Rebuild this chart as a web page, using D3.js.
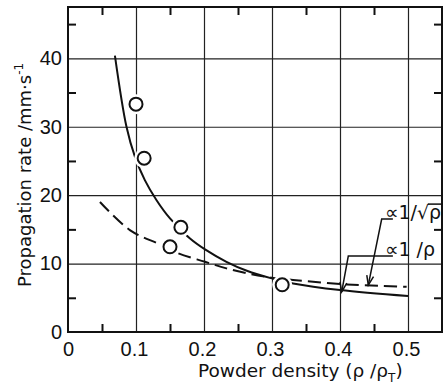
<!DOCTYPE html>
<html>
<head>
<meta charset="utf-8">
<script src="https://cdn.jsdelivr.net/npm/d3@7"></script>
<style>
  body { margin: 0; background: #fff; }
  .tick-label text { font-family: "Liberation Sans", Arial, sans-serif; font-size: 20px; fill: #111; }
  .title { font-family: "DejaVu Sans", sans-serif; font-size: 18px; fill: #111; }
</style>
</head>
<body>
<svg width="444" height="389"></svg>
<script>
const obsX = [0.1, 0.112, 0.15, 0.166, 0.315];
const obsY = [33.3, 25.4, 12.45, 15.3, 6.9];

// curve ∝ 1/rho (solid)
const invX = [0.069, 0.086, 0.0985, 0.113, 0.13, 0.15, 0.166, 0.179, 0.2015, 0.233, 0.263, 0.2995, 0.331, 0.4, 0.5];
const invY = [40.4, 30.0, 25.6, 22.2, 19.3, 16.6, 15.0, 13.7, 12.07, 10.26, 8.95, 7.84, 7.1, 6.13, 5.25];

// curve ∝ 1/sqrt(rho) (dashed)
const sqrtX = [0.047, 0.091, 0.135, 0.162, 0.2015, 0.233, 0.268, 0.2995, 0.331, 0.41, 0.498];
const sqrtY = [19.0, 14.9, 12.8, 11.5, 10.26, 9.3, 8.47, 7.93, 7.6, 6.96, 6.6];

const xTicks = [0, 0.1, 0.2, 0.3, 0.4, 0.5];
const xTickLabels = ["0", "0.1", "0.2", "0.3", "0.4", "0.5"];
const yTicks = [0, 10, 20, 30, 40];
const xMinor = [0.05, 0.15, 0.25, 0.35, 0.45];
const yMinor = [5, 15, 25, 35, 45];

const svg = d3.select("svg");
const m = { left: 68, right: 442, top: 7, bottom: 332 };

const x = d3.scaleLinear().domain([0, 0.55]).range([m.left, m.right]);
const y = d3.scaleLinear().domain([0, 47.5]).range([m.bottom, m.top]);

// grid lines
svg.append("g")
  .attr("transform", `translate(0,${m.bottom})`)
  .call(d3.axisBottom(x).tickValues(xTicks.slice(1)).tickSize(-(m.bottom - m.top)).tickFormat(""))
  .call(g => g.select(".domain").remove())
  .selectAll("line").attr("stroke", "#222").attr("stroke-width", 1.2);

svg.append("g")
  .attr("transform", `translate(${m.left},0)`)
  .call(d3.axisLeft(y).tickValues(yTicks.slice(1)).tickSize(-(m.right - m.left)).tickFormat(""))
  .call(g => g.select(".domain").remove())
  .selectAll("line").attr("stroke", "#222").attr("stroke-width", 1.2);

// curves
const line = d3.line()
  .x(d => x(d[0]))
  .y(d => y(d[1]))
  .curve(d3.curveCatmullRom);

svg.append("path")
  .datum(d3.zip(invX, invY))
  .attr("d", line)
  .attr("fill", "none")
  .attr("stroke", "#111")
  .attr("stroke-width", 2);

svg.append("path")
  .datum(d3.zip(sqrtX, sqrtY))
  .attr("d", line)
  .attr("fill", "none")
  .attr("stroke", "#111")
  .attr("stroke-width", 2)
  .attr("stroke-dasharray", "13,6");

// data points (white halo breaks the lines like the print)
const pts = d3.zip(obsX, obsY);
svg.append("g").selectAll("circle")
  .data(pts)
  .join("circle")
  .attr("cx", d => x(d[0]))
  .attr("cy", d => y(d[1]))
  .attr("r", 10)
  .attr("fill", "#fff");

svg.append("g").selectAll("circle")
  .data(pts)
  .join("circle")
  .attr("cx", d => x(d[0]))
  .attr("cy", d => y(d[1]))
  .attr("r", 6.5)
  .attr("fill", "#fff")
  .attr("stroke", "#111")
  .attr("stroke-width", 2);

// frame
svg.append("rect")
  .attr("x", m.left).attr("y", m.top)
  .attr("width", m.right - m.left).attr("height", m.bottom - m.top)
  .attr("fill", "none")
  .attr("stroke", "#111")
  .attr("stroke-width", 2);

// inward minor ticks on all four sides
const tickLen = 8;
function minor(axis, tx, ty) {
  svg.append("g")
    .attr("transform", `translate(${tx},${ty})`)
    .call(axis.tickSize(tickLen).tickFormat(""))
    .call(g => g.select(".domain").remove())
    .selectAll("line").attr("stroke", "#111").attr("stroke-width", 2);
}
minor(d3.axisTop(x).tickValues(xMinor), 0, m.bottom);
minor(d3.axisBottom(x).tickValues(xMinor), 0, m.top);
minor(d3.axisRight(y).tickValues(yMinor), m.left, 0);
minor(d3.axisLeft(y).tickValues(yMinor), m.right, 0);

// tick labels
svg.append("g")
  .attr("class", "tick-label")
  .attr("transform", `translate(0,${m.bottom})`)
  .call(d3.axisBottom(x).tickValues(xTicks).tickSize(0).tickPadding(10)
    .tickFormat((d, i) => xTickLabels[i]))
  .call(g => g.select(".domain").remove())
  .selectAll("text").attr("dx", (d, i) => i === 0 ? 0 : -2);

svg.append("g")
  .attr("class", "tick-label")
  .attr("transform", `translate(${m.left},0)`)
  .call(d3.axisLeft(y).tickValues(yTicks).tickSize(0).tickPadding(6))
  .call(g => g.select(".domain").remove());

// axis titles
const xt = svg.append("text")
  .attr("class", "title")
  .attr("font-size", 18.5)
  .style("font-size", "18.5px")
  .attr("x", 198)
  .attr("y", 377);
xt.append("tspan").text("Powder density (ρ /ρ");
xt.append("tspan").attr("dy", 5).style("font-size", "12px").text("T");
xt.append("tspan").attr("dy", -5).text(")");

const yt = svg.append("text")
  .attr("class", "title")
  .attr("transform", "translate(31,287) rotate(-90)");
yt.append("tspan").text("Propagation rate /mm·s");
yt.append("tspan").attr("dy", -8).style("font-size", "12px").text("-1");

// annotations with leader arrows
const notes = [
  { label: "∝1/√", tail: "ρ", tx: 0.466, ty: 16.5, ex: 0.4613, ey: 16.5, px: 0.4416, py: 6.86, under: 8 },
  { label: "∝1 /ρ", tail: "", tx: 0.466, ty: 11.1, ex: 0.4122, ey: 11.1, px: 0.4025, py: 5.88, under: 8 }
];

notes.forEach(n => {
  const t = svg.append("text")
    .attr("class", "title")
    .style("font-size", "19px")
    .attr("x", x(n.tx))
    .attr("y", y(n.ty));
  t.append("tspan").text(n.label);
  if (n.tail) {
    const tail = t.append("tspan").text(n.tail);
    const bb = t.node().getBBox();
    const w = tail.node().getComputedTextLength();
    svg.append("line")
      .attr("x1", bb.x + bb.width - w - 1).attr("x2", bb.x + bb.width + 1)
      .attr("y1", y(n.ty) - 15).attr("y2", y(n.ty) - 15)
      .attr("stroke", "#111").attr("stroke-width", 1.5);
  }

  const ex = x(n.ex), ey = y(n.ey), px = x(n.px), py = y(n.py);
  svg.append("polyline")
    .attr("points", [[x(n.tx) + n.under, ey], [ex, ey], [px, py]].map(p => p.join(",")).join(" "))
    .attr("fill", "none")
    .attr("stroke", "#111")
    .attr("stroke-width", 1.5);

  const a = Math.atan2(ey - py, ex - px);
  const head = [a - 0.35, a + 0.35].map(b => [px + 10 * Math.cos(b), py + 10 * Math.sin(b)]);
  svg.append("polyline")
    .attr("points", [head[0], [px, py], head[1]].map(p => p.join(",")).join(" "))
    .attr("fill", "none")
    .attr("stroke", "#111")
    .attr("stroke-width", 1.5);
});
</script>
</body>
</html>
